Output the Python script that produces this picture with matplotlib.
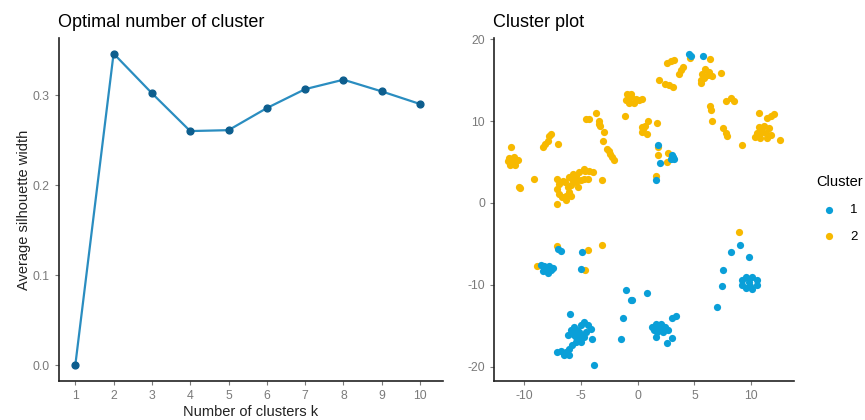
import matplotlib
matplotlib.use("Agg")
import matplotlib.pyplot as plt

plt.rcParams['font.family'] = ['Liberation Sans', 'DejaVu Sans']
plt.rcParams['axes.unicode_minus'] = False

# silhouette widths
k_values = [1, 2, 3, 4, 5, 6, 7, 8, 9, 10]
silhouette = [0.0, 0.346, 0.302, 0.260, 0.261, 0.2855, 0.3065, 0.317, 0.304, 0.290]

# cluster 2 (orange)
c2_x = [-11.1, -11.3, -10.9, -10.5, -11.2, -10.8, -11.0, -11.4,
        -10.45, -10.3, -9.1,
        -8.3, -8.1, -7.9, -7.75, -7.6, -7.0,
        -7.05, -6.9, -7.05, -6.9, -7.05, -6.3, -6.6, -6.0, -5.7, -5.4, -5.15, -4.7, -4.25, -3.95,
        -4.4, -5.0, -5.4, -5.85, -6.0, -5.85, -6.3, -6.65, -6.1, -5.2, -4.75, -4.6, -5.5, -6.4, -5.75,
        -3.1,
        -4.55, -4.3, -3.65, -3.35, -3.4, -3.3, -2.95, -3.0, -2.7, -2.55, -2.4, -2.25, -2.05,
        -1.1,
        -0.9, -0.55, -1.05, -0.75, -0.3, 0.15, 0.4, -0.15, -0.6,
        0.4, 0.65, 0.95, 0.5, 0.8, 0.4,
        1.75,
        1.8, 1.8, 2.7, 2.6, 1.65,
        4.65, 6.35, 2.6, 2.9, 3.2, 3.65, 3.85, 4.0, 1.9, 2.45, 2.75, 3.15,
        5.9, 5.7, 6.15, 6.55, 5.55, 5.85, 5.6, 6.25, 7.3,
        6.4, 6.45, 7.75, 8.25, 8.5, 6.55, 7.55, 7.75, 7.9, 9.15,
        10.65, 11.4, 11.7, 12.0,
        10.5, 10.65, 11.1, 11.55, 11.7, 11.4, 10.8, 10.35, 10.95, 11.25,
        12.55,
        -8.85, -7.1, -4.4, -3.15, -4.65, 8.95]
c2_y = [6.8, 5.5, 5.6, 5.3, 4.6, 4.6, 5.0, 5.1,
        1.9, 1.8, 2.9,
        6.8, 7.2, 7.6, 8.2, 8.4, 7.2,
        2.9, 2.35, 1.75, 1.1, -0.15, 0.35, 2.7, 3.15, 3.55, 3.35, 3.75, 4.15, 3.95, 3.75,
        2.95, 2.75, 2.5, 2.15, 1.3, 0.9, 0.9, 0.7, 1.95, 1.95, 2.95, 3.95, 3.1, 2.55, 2.9,
        2.75,
        10.3, 10.3, 10.95, 10.05, 9.65, 9.45, 8.7, 7.6, 6.6, 6.3, 6.0, 5.6, 5.2,
        10.65,
        13.35, 13.35, 12.55, 12.25, 12.15, 12.55, 12.75, 12.75, 12.9,
        8.65, 9.45, 10.0, 9.05, 8.4, 9.3,
        9.75,
        6.8, 5.8, 6.1, 5.0, 3.25,
        17.7, 17.6, 17.15, 17.3, 17.45, 15.8, 16.2, 16.6, 15.0, 14.55, 14.35, 14.15,
        16.3, 15.8, 15.6, 15.5, 15.0, 15.2, 14.6, 16.0, 15.9,
        11.8, 11.4, 12.4, 12.8, 12.4, 10.0, 9.1, 8.6, 8.2, 7.1,
        11.0, 10.4, 10.6, 10.9,
        8.5, 9.3, 9.4, 9.1, 8.3, 7.9, 7.9, 8.1, 8.7, 8.5,
        7.65,
        -7.75, -5.3, -5.7, -5.2, -8.25, -3.5]

# cluster 1 (blue)
c1_x = [4.5, 4.7, 5.75,
        1.8, 3.05, 3.2, 2.9, 3.1, 2.0, 1.65,
        -8.45, -8.2, -7.75, -8.35, -7.9, -7.6, -8.05, -7.45,
        -7.0, -6.7, -4.85, -4.95,
        -5.95,
        -6.15, -5.85, -5.6, -5.3, -5.0, -4.7, -4.4, -4.1, -4.55, -4.85, -5.15, -5.45, -5.75, -6.0,
        -6.3, -6.75, -7.05, -6.45, -6.0, -5.45, -5.0, -4.7, -5.6, -5.15,
        -4.05, -3.8,
        -1.0, -0.55, -0.45, 0.85, -1.25, -1.5,
        1.3, 1.6, 2.05, 2.45, 2.7, 2.2, 1.75, 1.45, 1.6, 1.9,
        3.05, 3.35, 3.05, 2.55,
        7.0, 7.4, 7.5, 8.25, 9.0, 9.8,
        9.2, 9.5, 10.05, 10.5, 10.5, 10.05, 9.5, 9.15, 9.8, 9.85]
c1_y = [18.25, 17.95, 17.95,
        7.1, 5.8, 5.4, 5.4, 5.6, 4.85, 2.8,
        -7.55, -7.75, -7.75, -8.35, -8.55, -8.15, -8.15, -7.95,
        -5.6, -5.85, -6.0, -8.05,
        -13.6,
        -16.15, -15.55, -15.15, -15.55, -14.95, -14.55, -14.95, -15.35, -15.75, -16.15, -16.55, -16.95, -17.4, -17.8,
        -18.2, -18.1, -18.2, -18.6, -18.6, -16.35, -16.95, -16.35, -16.15, -15.75,
        -16.65, -19.8,
        -10.6, -11.8, -11.9, -11.05, -14.1, -16.6,
        -15.15, -14.75, -14.75, -15.15, -15.55, -15.75, -15.75, -15.55, -16.35, -15.35,
        -14.1, -13.8, -16.45, -17.05,
        -12.75, -10.2, -8.2, -5.95, -5.15, -6.55,
        -9.45, -9.05, -9.05, -9.45, -10.05, -10.55, -10.45, -10.05, -9.65, -10.1]

blue = "#0A9FD8"
orange = "#F7B900"
tick_col = "#7a7a7a"

fig = plt.figure(figsize=(8.65, 4.2), dpi=100)


def style_axes(ax):
    for s in ['top', 'right']:
        ax.spines[s].set_visible(False)
    for s in ['left', 'bottom']:
        ax.spines[s].set_linewidth(1.2)
        ax.spines[s].set_color("#222222")
    ax.tick_params(colors=tick_col, labelsize=8.8, length=3, width=0.8)


# left panel: silhouette
ax1 = fig.add_axes([0.0682, 0.0929, 0.444, 0.8167])
ax1.plot(k_values, silhouette, color="#2A8DC0", lw=1.6, zorder=2)
ax1.scatter(k_values, silhouette, color="#0D5E8E", s=24, zorder=3)
ax1.set_xlim(0.575, 10.6)
ax1.set_ylim(-0.0173, 0.3633)
ax1.set_xticks(k_values)
ax1.set_yticks([0.0, 0.1, 0.2, 0.3])
ax1.set_yticklabels(["0.0", "0.1", "0.2", "0.3"])
style_axes(ax1)
ax1.set_xlabel("Number of clusters k", fontsize=10.5, labelpad=2, color="#222222")
ax1.set_ylabel("Average silhouette width", fontsize=10.5, labelpad=1, color="#222222")
ax1.set_title("Optimal number of cluster", fontsize=13, loc='left', x=-0.003, pad=8)

# right panel: cluster plot
ax2 = fig.add_axes([0.5714, 0.0929, 0.3465, 0.8167])
ax2.scatter(c2_x, c2_y, color=orange, s=27, lw=0, label="2", zorder=2)
ax2.scatter(c1_x, c1_y, color=blue, s=27, lw=0, label="1", zorder=3)
ax2.set_xlim(-12.6, 13.75)
ax2.set_ylim(-21.75, 20.15)
ax2.set_xticks([-10, -5, 0, 5, 10])
ax2.set_yticks([-20, -10, 0, 10, 20])
style_axes(ax2)
ax2.set_title("Cluster plot", fontsize=13, loc='left', x=-0.003, pad=8)

handles, labels = ax2.get_legend_handles_labels()
leg = fig.legend([handles[1], handles[0]], ["1", "2"], title="Cluster",
                 loc='upper left', bbox_to_anchor=(0.937, 0.595), frameon=False,
                 fontsize=9.5, title_fontsize=10.5, handletextpad=0.6,
                 labelspacing=1.1, borderaxespad=0)
leg._legend_box.align = "left"

fig.savefig("out.png", dpi=100)
